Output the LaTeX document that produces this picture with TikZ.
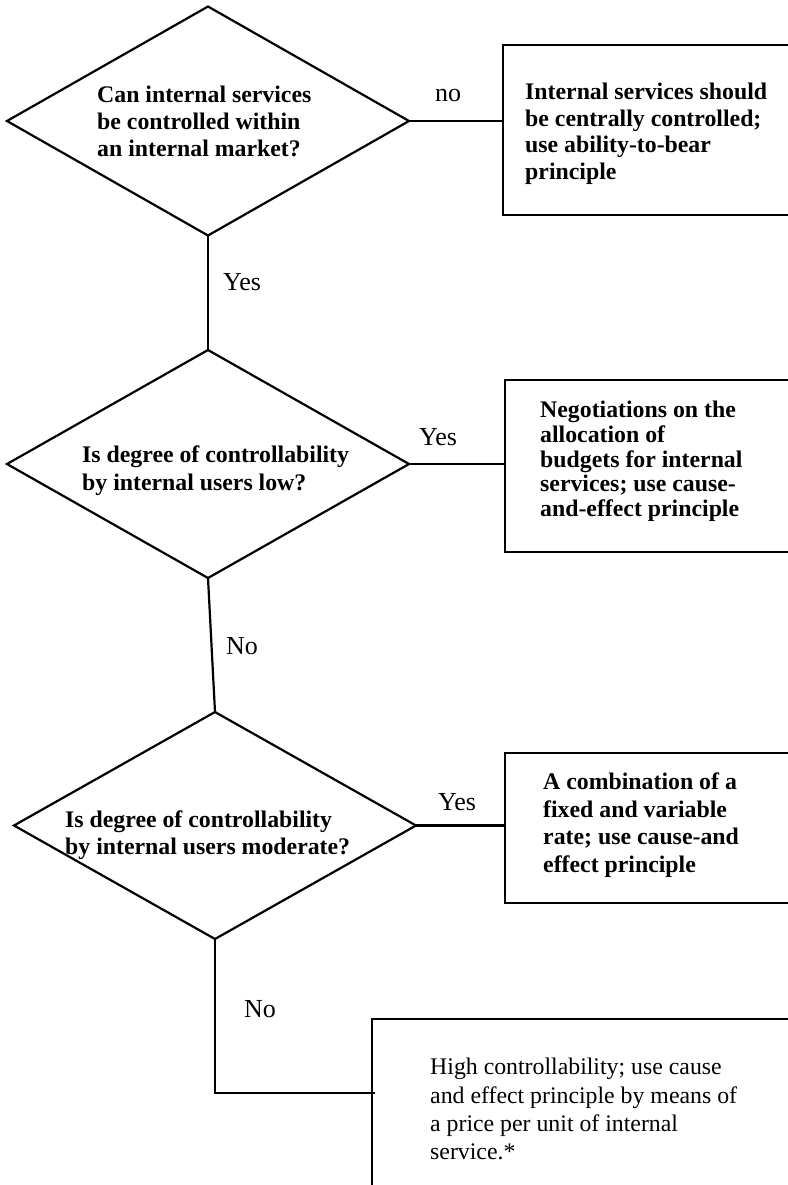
\documentclass[tikz,border=0pt]{standalone}
\usepackage{fontspec}
\setmainfont{Liberation Serif}
\usetikzlibrary{shapes.geometric}

\tikzset{
  ln/.style={line width=2.2bp},
  decision/.style={draw, shape=diamond, line width=2.2bp, inner sep=0pt, outer sep=0pt},
  outcome/.style={draw, rectangle, line width=2.2bp, anchor=north west, inner sep=0pt, outer sep=0pt},
  btxt/.style={font=\fontsize{23.8bp}{#1}\selectfont\bfseries, align=left, inner sep=0pt, anchor=north west},
  rtxt/.style={font=\fontsize{23.8bp}{28.3bp}\selectfont, align=left, inner sep=0pt, anchor=north west},
  lbl/.style={font=\fontsize{26bp}{28bp}\selectfont, inner sep=0pt},
}

\begin{document}
\begin{tikzpicture}[x=1bp, y=-1bp]
\useasboundingbox (0,0) rectangle (788,1185);
\clip (0,0) rectangle (788,1185);

% decisions
\node[decision, minimum width=402bp, minimum height=229bp] (d1) at (208,121) {};
\node[decision, minimum width=402bp, minimum height=228bp] (d2) at (208,464) {};
\node[decision, minimum width=402bp, minimum height=227bp] (d3) at (215,825.5) {};

\node[btxt=26.7bp] (t1) at (97,86) {Can internal services\\be controlled within\\an internal market?};
\node[btxt=28bp] (t2) at (82,446) {Is degree of controllability\\by internal users low?};
\node[btxt=27bp] (t3) at (65,811) {Is degree of controllability\\by internal users moderate?};

% outcomes (right side runs off the page)
\node[outcome, minimum width=310bp, minimum height=170bp] (b1) at (503,45) {};
\node[outcome, minimum width=310bp, minimum height=172bp] (b2) at (505,380) {};
\node[outcome, minimum width=310bp, minimum height=150bp] (b3) at (505,753) {};
\node[outcome, minimum width=440bp, minimum height=220bp] (b4) at (372,1019) {};

\node[btxt=26.5bp] (o1) at (525,83) {Internal services should\\be centrally controlled;\\use ability-to-bear\\principle};
\node[btxt=24.7bp] (o2) at (540,401) {Negotiations on the\\allocation of\\budgets for internal\\services; use cause-\\and-effect principle};
\node[btxt=27.5bp] (o3) at (543,773) {A combination of a\\fixed and variable\\rate; use cause-and\\effect principle};
\node[rtxt] (o4) at (430,1058) {High controllability; use cause\\and effect principle by means of\\a price per unit of internal\\service.*};

% connectors
\draw[ln] (d1.east) -- (d1.east -| b1.west);
\draw[ln] (d2.east) -- (d2.east -| b2.west);
\draw[ln] (d3.east) -- (d3.east -| b3.west);
\draw[ln] (d1.south) -- (d2.north);
\draw[ln] (d2.south) -- (d3.north);
\coordinate (k) at (217,1093);
\draw[ln] (d3.south) -- (d3.south |- k) -- (k -| b4.west) -- ++(3,0);

% branch labels
\node[lbl] (l1) at (448,95) {no};
\node[lbl] (l2) at (242,282) {Yes};
\node[lbl] (l3) at (438,437) {Yes};
\node[lbl] (l4) at (242,646) {No};
\node[lbl] (l5) at (457,802) {Yes};
\node[lbl] (l6) at (260,1009) {No};
\end{tikzpicture}
\end{document}
